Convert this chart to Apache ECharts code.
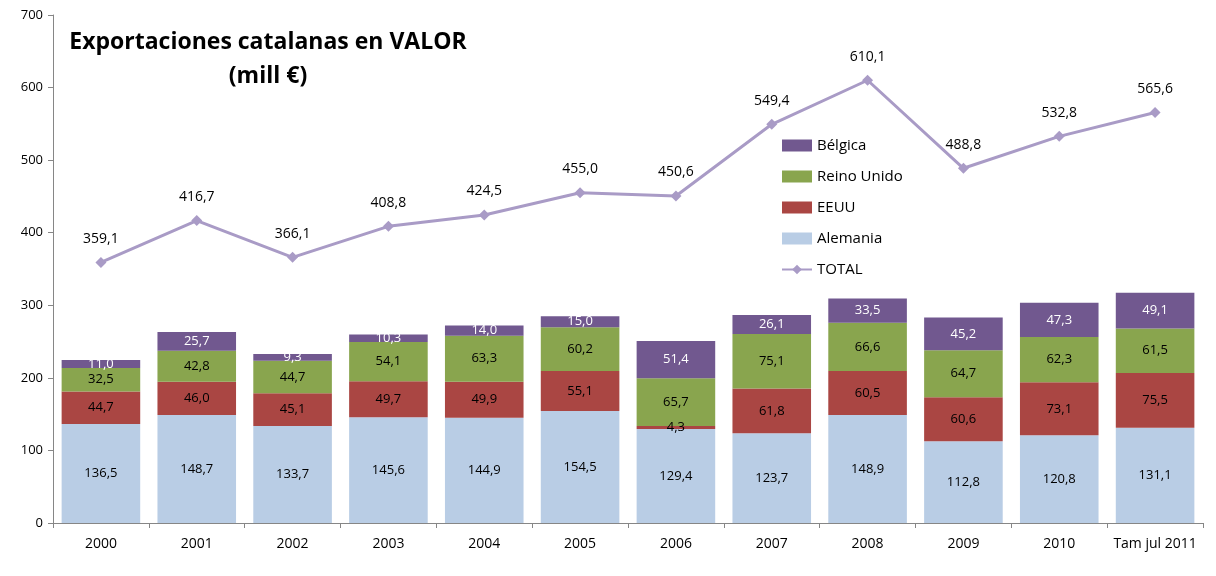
<!DOCTYPE html>
<html>
<head>
<meta charset="utf-8">
<script src="https://cdn.jsdelivr.net/npm/echarts@6/dist/echarts.min.js"></script>
<style>
  html, body { margin: 0; padding: 0; background: #fff; }
  #chart { width: 1216px; height: 576px; }
</style>
</head>
<body>
<div id="chart"></div>
<script>
  // years / categories
  const categories = ['2000', '2001', '2002', '2003', '2004', '2005', '2006', '2007', '2008', '2009', '2010', 'Tam jul 2011']
  // mill € per country
  const alemania = [136.5, 148.7, 133.7, 145.6, 144.9, 154.5, 129.4, 123.7, 148.9, 112.8, 120.8, 131.1]
  const eeuu = [44.7, 46.0, 45.1, 49.7, 49.9, 55.1, 4.3, 61.8, 60.5, 60.6, 73.1, 75.5]
  const reinoUnido = [32.5, 42.8, 44.7, 54.1, 63.3, 60.2, 65.7, 75.1, 66.6, 64.7, 62.3, 61.5]
  const belgica = [11.0, 25.7, 9.3, 10.3, 14.0, 15.0, 51.4, 26.1, 33.5, 45.2, 47.3, 49.1]
  const total = [359.1, 416.7, 366.1, 408.8, 424.5, 455.0, 450.6, 549.4, 610.1, 488.8, 532.8, 565.6]
  const yTicks = [0, 100, 200, 300, 400, 500, 600, 700]

  const fmt = function (p) {
    return p.value.toFixed(1).replace('.', ',')
  }
  const font = 'Open Sans'

  function barSeries (name, data, color, labelColor) {
    return {
      name: name,
      type: 'bar',
      stack: 'paises',
      data: data,
      barCategoryGap: '18%',
      itemStyle: { color: color },
      label: {
        show: true,
        position: 'inside',
        formatter: fmt,
        color: labelColor,
        fontFamily: font,
        fontSize: 13
      }
    }
  }

  let chart = echarts.init(document.getElementById('chart'))
  let option = {
    animation: false,
    textStyle: { fontFamily: font },
    title: {
      text: 'Exportaciones catalanas en VALOR\n(mill €)',
      left: 263,
      top: 20,
      textAlign: 'center',
      textStyle: {
        fontFamily: font,
        fontSize: 23,
        fontWeight: 'bold',
        color: '#000',
        lineHeight: 34,
        align: 'center'
      }
    },
    legend: {
      orient: 'vertical',
      left: 776,
      top: 133,
      itemGap: 16,
      itemWidth: 30,
      itemHeight: 12,
      textStyle: { fontFamily: font, fontSize: 15, color: '#000' },
      data: [
        { name: 'Bélgica', icon: 'rect' },
        { name: 'Reino Unido', icon: 'rect' },
        { name: 'EEUU', icon: 'rect' },
        { name: 'Alemania', icon: 'rect' },
        { name: 'TOTAL' }
      ]
    },
    grid: {
      left: 53,
      right: 13,
      top: 15,
      bottom: 53
    },
    xAxis: {
      type: 'category',
      data: categories,
      axisLine: { lineStyle: { color: '#868686' } },
      axisTick: { show: true, length: 5, interval: 0, lineStyle: { color: '#868686' } },
      axisLabel: { interval: 0, color: '#000', fontSize: 14, fontFamily: font, margin: 14 }
    },
    yAxis: {
      type: 'value',
      min: yTicks[0],
      max: yTicks[yTicks.length - 1],
      interval: 100,
      splitLine: { show: false },
      axisLine: { show: true, lineStyle: { color: '#868686' } },
      axisTick: { show: true, length: 5, lineStyle: { color: '#868686' } },
      axisLabel: { color: '#000', fontSize: 13, fontFamily: font, margin: 10 }
    },
    series: [
      barSeries('Alemania', alemania, '#B9CDE5', '#000'),
      barSeries('EEUU', eeuu, '#AA4643', '#000'),
      barSeries('Reino Unido', reinoUnido, '#89A54E', '#000'),
      barSeries('Bélgica', belgica, '#71588F', '#fff'),
      {
        name: 'TOTAL',
        type: 'line',
        data: total,
        symbol: 'diamond',
        symbolSize: 11,
        lineStyle: { color: '#A99BC6', width: 3 },
        itemStyle: { color: '#A99BC6' },
        label: {
          show: true,
          position: 'top',
          distance: 11,
          formatter: fmt,
          color: '#000',
          fontFamily: font,
          fontSize: 14
        }
      }
    ]
  }
  chart.setOption(option)
</script>
</body>
</html>
